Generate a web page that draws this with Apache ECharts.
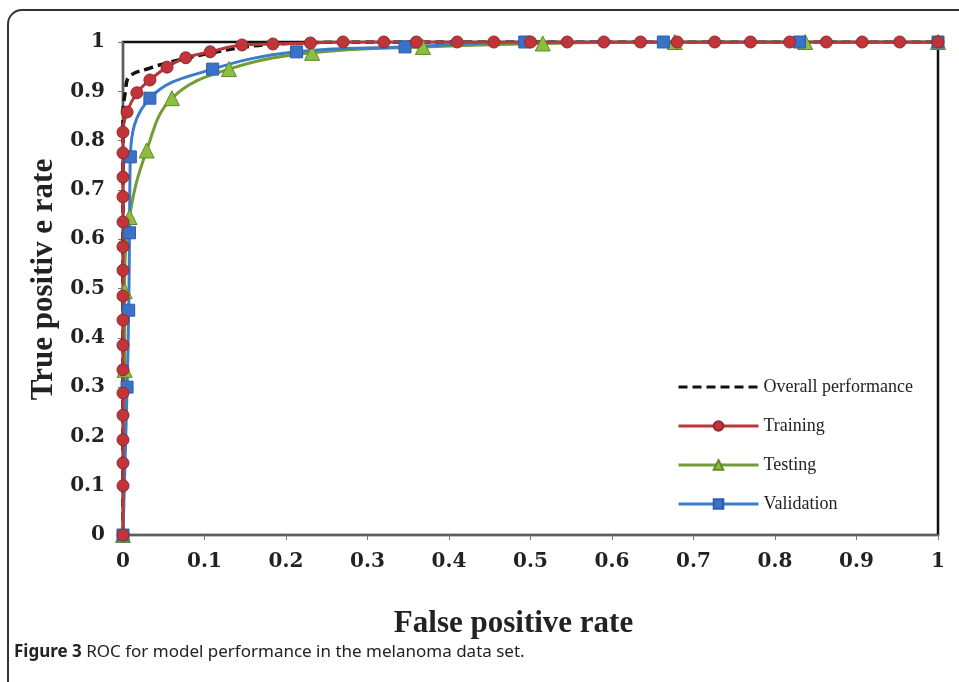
<!DOCTYPE html>
<html>
<head>
<meta charset="utf-8">
<script src="https://cdn.jsdelivr.net/npm/echarts@6/dist/echarts.min.js"></script>
<style>
  html, body { margin: 0; padding: 0; background: #fff; }
  #chart { width: 959px; height: 682px; }
</style>
</head>
<body>
<div id="chart"></div>
<script>
// ROC curves (false positive rate, true positive rate)
var overallX = [0, 0, 0.003, 0.008, 0.033, 0.055, 0.1, 0.15, 0.2, 0.3, 1];
var overallY = [0, 0.85, 0.9, 0.93, 0.947, 0.958, 0.975, 0.99, 0.997, 1, 1];

var trainX = [0, 0, 0, 0, 0, 0, 0, 0, 0, 0, 0, 0, 0, 0, 0, 0, 0,
              0.005, 0.017, 0.033, 0.054, 0.077, 0.107, 0.146, 0.184,
              0.23, 0.27, 0.32, 0.36, 0.41, 0.455, 0.5, 0.545, 0.59, 0.635,
              0.68, 0.726, 0.77, 0.818, 0.863, 0.907, 0.953, 1];
var trainY = [0, 0.1, 0.146, 0.193, 0.243, 0.288, 0.335, 0.385, 0.436, 0.485,
              0.537, 0.585, 0.635, 0.686, 0.726, 0.775, 0.817,
              0.858, 0.897, 0.923, 0.949, 0.968, 0.98, 0.994, 0.996,
              0.998, 1, 1, 1, 1, 1, 1, 1, 1, 1,
              1, 1, 1, 1, 1, 1, 1, 1];

var testX = [0, 0.002, 0.002, 0.008, 0.029, 0.06, 0.13, 0.232, 0.368, 0.515, 0.677, 0.837, 1];
var testY = [0, 0.335, 0.495, 0.645, 0.78, 0.886, 0.945, 0.978, 0.99, 0.997, 1, 1, 1];

var validX = [0, 0.005, 0.007, 0.008, 0.009, 0.033, 0.11, 0.213, 0.346, 0.493, 0.663, 0.83, 1];
var validY = [0, 0.3, 0.456, 0.613, 0.767, 0.886, 0.945, 0.98, 0.99, 1, 1, 1, 1];

function pairs(xs, ys){
	var out = [];
	for(var i=0; i<xs.length; i++){
		out.push([xs[i], ys[i]]);
	}
	return out;
}

var chart = echarts.init(document.getElementById('chart'));
var tickFont = { fontFamily: 'DejaVu Serif', fontSize: 20, fontWeight: 'bold', color: '#222' };
var titleFont = { fontFamily: 'Liberation Serif', fontSize: 31, fontWeight: 'bold', color: '#222' };

var option = {
	animation: false,
	backgroundColor: '#fff',
	grid: {
		left: 123, right: 21, top: 42, bottom: 147,
		show: true,
		borderColor: '#111',
		borderWidth: 2.5
	},
	legend: {
		orient: 'vertical',
		left: 672,
		top: 373,
		itemWidth: 80,
		itemHeight: 12,
		itemGap: 21,
		lineStyle: { width: 3 },
		textStyle: { fontFamily: 'Liberation Serif', fontSize: 18, color: '#222' },
		data: [
			{ name: 'Overall performance', itemStyle: { opacity: 0 } },
			'Training', 'Testing', 'Validation'
		]
	},
	xAxis: {
		type: 'value',
		min: 0, max: 1, interval: 0.1,
		name: 'False positive rate',
		nameLocation: 'middle',
		nameGap: 73,
		nameTextStyle: Object.assign({ padding: [0, 34, 0, 0] }, titleFont),
		splitLine: { show: false },
		axisLine: { lineStyle: { color: '#777', width: 1.5 } },
		axisTick: { show: true, length: 5, lineStyle: { color: '#777' } },
		axisLabel: Object.assign({ margin: 17, formatter: function(v){ return String(Math.round(v*10)/10); } }, tickFont)
	},
	yAxis: {
		type: 'value',
		min: 0, max: 1, interval: 0.1,
		name: 'True positiv e rate',
		nameLocation: 'middle',
		nameGap: 63,
		nameTextStyle: Object.assign({ padding: [0, 0, 0, 18] }, titleFont),
		splitLine: { show: false },
		axisLine: { show: true, lineStyle: { color: '#777', width: 1.5 } },
		axisTick: { show: true, length: 5, lineStyle: { color: '#777' } },
		axisLabel: Object.assign({ margin: 18, formatter: function(v){ return String(Math.round(v*10)/10); } }, tickFont)
	},
	graphic: [
		{
			type: 'rect',
			shape: { x: 8, y: 10, width: 1000, height: 720, r: 14 },
			style: { fill: 'none', stroke: '#333', lineWidth: 2 },
			silent: true
		},
		{
			type: 'text',
			left: 14,
			top: 644,
			style: {
				text: '{b|Figure 3} ROC for model performance in the melanoma data set.',
				font: '17px "Noto Sans"',
				fill: '#222',
				rich: {
					b: { fontFamily: 'Noto Sans', fontSize: 17, fontWeight: 'bold', fill: '#222' }
				}
			}
		}
	],
	series: [
		{
			name: 'Overall performance',
			type: 'line',
			smooth: 0.4,
			symbol: 'none',
			lineStyle: { color: '#111', width: 3.5, type: [9, 5] },
			itemStyle: { color: '#111' },
			data: pairs(overallX, overallY)
		},
		{
			name: 'Testing',
			type: 'line',
			smooth: 0.4,
			symbol: 'triangle',
			symbolSize: 15,
			lineStyle: { color: '#729c34', width: 3 },
			itemStyle: { color: '#8cbf3f', borderColor: '#5f8a2a', borderWidth: 1 },
			data: pairs(testX, testY)
		},
		{
			name: 'Validation',
			type: 'line',
			smooth: 0.4,
			symbol: 'rect',
			symbolSize: 12,
			lineStyle: { color: '#3b7ccb', width: 3 },
			itemStyle: { color: '#3a72c8', borderColor: '#2d5ea8', borderWidth: 1 },
			data: pairs(validX, validY)
		},
		{
			name: 'Training',
			type: 'line',
			smooth: 0.4,
			symbol: 'circle',
			symbolSize: 12,
			lineStyle: { color: '#b8383a', width: 3 },
			itemStyle: { color: '#c0343a', borderColor: '#8e2a2e', borderWidth: 1 },
			data: pairs(trainX, trainY)
		}
	]
};
chart.setOption(option);
</script>
</body>
</html>
